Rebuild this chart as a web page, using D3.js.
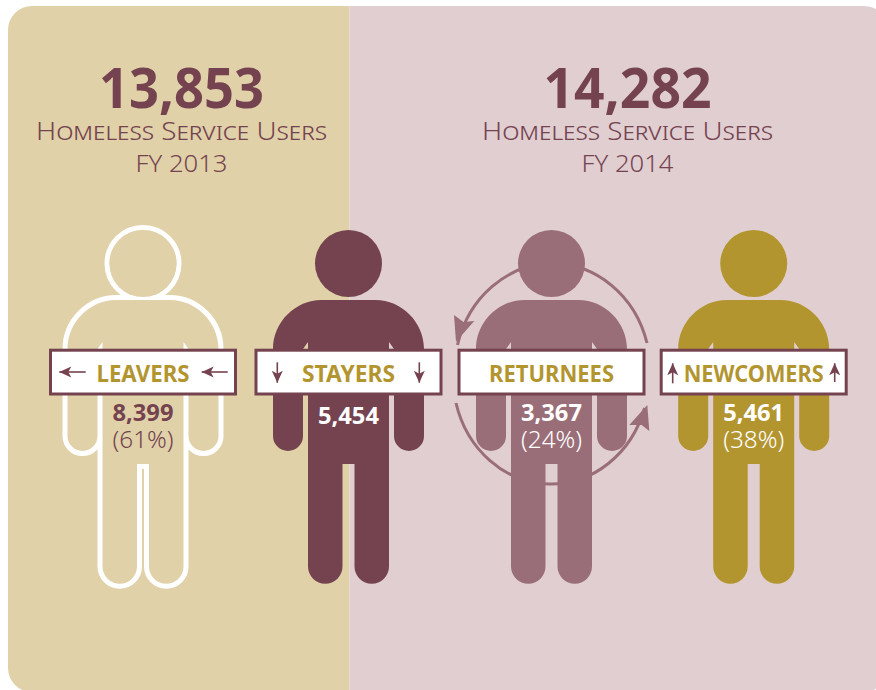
<!DOCTYPE html>
<html>
<head>
<meta charset="utf-8">
<script src="https://d3js.org/d3.v7.min.js"></script>
<style>
  html, body { margin: 0; padding: 0; background: #fff; }
  svg { display: block; }
  text { font-family: 'Noto Sans', sans-serif; text-anchor: middle; }
</style>
</head>
<body>
<div id="chart"></div>
<script>
// chart values
const years = ['FY 2013', 'FY 2014']
const totals = [13853, 14282]
const groups = ['LEAVERS', 'STAYERS', 'RETURNEES', 'NEWCOMERS']
const counts = [8399, 5454, 3367, 5461]
const shares = [61, null, 24, 38]

const width = 876
const height = 690

const plum = '#74434f'
const gold = '#b39530'
const tan = '#e0d1a9'
const pink = '#e0ced1'
const mauve = '#9a6e78'

const x = d3.scaleOrdinal().domain(groups).range([143, 348.5, 551.5, 753.7])
const personColor = d3.scaleOrdinal().domain(groups).range(['none', plum, mauve, gold])
const labelWidth = d3.scaleOrdinal().domain(groups).range([93, 93, 125, 140])
const yearX = d3.scaleOrdinal().domain(years).range([181.5, 627.5])
const totalWidth = d3.scaleOrdinal().domain(years).range([165, 168])
const fmt = d3.format(',')

const svg = d3.select('#chart').append('svg')
  .attr('width', width)
  .attr('height', height)

// panel runs off the right and bottom of the page
svg.append('clipPath').attr('id', 'panel')
  .append('rect')
  .attr('x', 8).attr('y', 6)
  .attr('width', 880).attr('height', 686)
  .attr('rx', 24)

const panel = svg.append('g').attr('clip-path', 'url(#panel)')
panel.append('rect').attr('x', 0).attr('y', 0).attr('width', 349.5).attr('height', height).attr('fill', tan)
panel.append('rect').attr('x', 349.5).attr('y', 0).attr('width', width - 349.5).attr('height', height).attr('fill', pink)

// headers
years.forEach((year, i) => {
  const cx = yearX(year)
  svg.append('text')
    .attr('x', cx).attr('y', 108)
    .attr('textLength', totalWidth(year)).attr('lengthAdjust', 'spacingAndGlyphs')
    .style('font-size', '56px').style('font-weight', 700)
    .attr('fill', plum)
    .text(fmt(totals[i]))
  svg.append('text')
    .attr('x', cx).attr('y', 140)
    .attr('textLength', 291).attr('lengthAdjust', 'spacingAndGlyphs')
    .style('font-size', '25px').style('font-variant', 'small-caps').style('font-weight', 300)
    .attr('fill', plum)
    .text('Homeless Service Users')
  svg.append('text')
    .attr('x', cx).attr('y', 172)
    .style('font-size', '24px').style('font-weight', 300)
    .attr('textLength', 92).attr('lengthAdjust', 'spacingAndGlyphs')
    .attr('fill', plum)
    .text(year)
})

// the person outline, relative to its centre line
function bodyPath(cx) {
  const p = [
    `M${cx - 27},300 L${cx + 27},300`,
    `C${cx + 53},300 ${cx + 75.5},322 ${cx + 75.5},349`,
    `L${cx + 75.5},436`,
    `A15,15 0 0 1 ${cx + 45.5},436`,
    `L${cx + 45.5},349 L${cx + 40.5},342 L${cx + 40.5},566.5`,
    `A17.25,17.25 0 0 1 ${cx + 6},566.5`,
    `L${cx + 6},464 L${cx - 6},464 L${cx - 6},566.5`,
    `A17.25,17.25 0 0 1 ${cx - 40.5},566.5`,
    `L${cx - 40.5},342 L${cx - 45.5},349 L${cx - 45.5},436`,
    `A15,15 0 0 1 ${cx - 75.5},436`,
    `L${cx - 75.5},349`,
    `C${cx - 75.5},322 ${cx - 53},300 ${cx - 27},300`,
    'Z'
  ]
  return p.join(' ')
}

// returnee loop sits behind the figure
const loopX = x('RETURNEES')
const loop = svg.append('g')
loop.append('path')
  .attr('d', `M${loopX + 95.5},343 A98,108 0 0 0 ${loopX - 94},345`)
  .attr('fill', 'none').attr('stroke', mauve).attr('stroke-width', 3)
loop.append('path')
  .attr('d', `M${loopX - 95.5},403 A98,108 0 0 0 ${loopX + 93},408`)
  .attr('fill', 'none').attr('stroke', mauve).attr('stroke-width', 3)
loop.append('path')
  .attr('d', `M${loopX - 95.5},341.7 L${loopX - 97.5},315 L${loopX - 88},322 L${loopX - 77.2},321 Z`)
  .attr('fill', mauve)
loop.append('path')
  .attr('d', `M${loopX + 95.8},405 L${loopX + 97.8},431 L${loopX + 90.2},425 L${loopX + 77.8},425 Z`)
  .attr('fill', mauve)

// people
groups.forEach(g => {
  const cx = x(g)
  const fill = personColor(g)
  if (fill === 'none') {
    // white outline sitting outside the shape
    svg.append('circle').attr('cx', cx).attr('cy', 263.5).attr('r', 36).attr('fill', 'none').attr('stroke', '#fff').attr('stroke-width', 5)
    svg.append('path').attr('d', bodyPath(cx)).attr('fill', '#fff').attr('stroke', '#fff').attr('stroke-width', 10).attr('stroke-linejoin', 'round')
    svg.append('circle').attr('cx', cx).attr('cy', 263.5).attr('r', 33.5).attr('fill', tan)
    svg.append('path').attr('d', bodyPath(cx)).attr('fill', tan)
  } else {
    svg.append('circle').attr('cx', cx).attr('cy', 263.5).attr('r', 33.5).attr('fill', fill)
    svg.append('path').attr('d', bodyPath(cx)).attr('fill', fill)
  }
})

// banners
const banner = svg.selectAll('g.banner').data(groups).join('g')
  .classed('banner', true)
  .attr('transform', d => `translate(${x(d)},0)`)

banner.append('rect')
  .attr('x', -92.5).attr('y', 350.2)
  .attr('width', 185).attr('height', 43.8)
  .attr('fill', '#fff').attr('stroke', plum).attr('stroke-width', 3)

banner.append('text')
  .attr('y', 382)
  .attr('textLength', d => labelWidth(d)).attr('lengthAdjust', 'spacingAndGlyphs')
  .style('font-size', '24px').style('font-weight', 700)
  .attr('fill', gold)
  .text(d => d)

// small arrows inside the banners, tip then tail
function arrow(x1, y1, x2, y2) {
  const a = Math.atan2(y2 - y1, x2 - x1)
  const pt = (len, off) => [
    x1 + len * Math.cos(a) - off * Math.sin(a),
    y1 + len * Math.sin(a) + off * Math.cos(a)
  ]
  svg.append('line')
    .attr('x1', x1).attr('y1', y1).attr('x2', x2).attr('y2', y2)
    .attr('stroke', plum).attr('stroke-width', 1.6)
  svg.append('path')
    .attr('d', d3.line()([[x1, y1], pt(12, 5.5), pt(9, 0), pt(12, -5.5)]) + 'Z')
    .attr('fill', plum)
}
arrow(59.3, 372, 85.7, 372)
arrow(201.7, 372, 227.7, 372)
arrow(277.3, 382.7, 277.3, 362.3)
arrow(419.3, 382.7, 419.3, 362.3)
arrow(672.7, 363.3, 672.7, 383.3)
arrow(834.7, 363.3, 834.7, 382)

// counts and shares
groups.forEach((g, i) => {
  const color = g === 'LEAVERS' ? plum : '#fff'
  svg.append('text')
    .attr('x', x(g)).attr('y', shares[i] === null ? 424 : 421)
    .attr('textLength', 61).attr('lengthAdjust', 'spacingAndGlyphs')
    .style('font-size', '24px').style('font-weight', 700)
    .attr('fill', color)
    .text(fmt(counts[i]))
  if (shares[i] !== null) {
    svg.append('text')
      .attr('x', x(g)).attr('y', 448)
      .attr('textLength', 61).attr('lengthAdjust', 'spacingAndGlyphs')
      .style('font-size', '24px').style('font-weight', 300)
      .attr('fill', color)
      .text(`(${shares[i]}%)`)
  }
})
</script>
</body>
</html>
